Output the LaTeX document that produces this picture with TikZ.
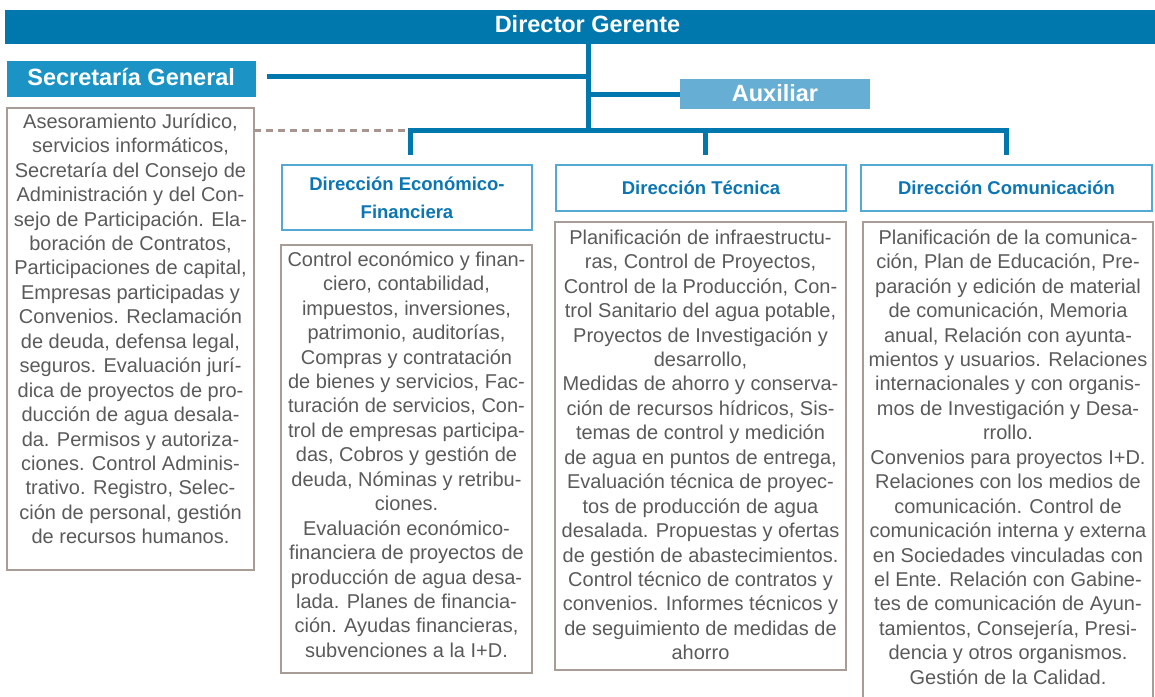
\documentclass[tikz,border=0pt]{standalone}
\usepackage{fontspec}
\setmainfont{Liberation Sans}
\usetikzlibrary{calc}
\definecolor{dgblue}{HTML}{0077AD}
\definecolor{sgblue}{HTML}{1B94C5}
\definecolor{auxblue}{HTML}{66AED3}
\definecolor{hdrborder}{HTML}{55A7D4}
\definecolor{hdrtext}{HTML}{0B76B3}
\definecolor{bodyborder}{HTML}{A89C96}
\definecolor{bodytext}{HTML}{5A5A5A}
\definecolor{dashcol}{HTML}{A8968E}
\begin{document}
\begin{tikzpicture}[x=1pt,y=-1pt,
  conn/.style={draw=dgblue,line width=5pt},
  solidbox/.style={inner sep=0pt,outer sep=0pt,text=white,text height=16pt,text depth=4pt,font=\bfseries\fontsize{23.5}{28}\selectfont},
  hdr/.style={draw=hdrborder,line width=1.3pt,fill=white,inner sep=0pt,outer sep=0pt,align=center,text=hdrtext,font=\bfseries\fontsize{18.5}{28}\selectfont},
  body/.style={draw=bodyborder,line width=1.2pt,inner sep=0pt,outer sep=0pt},
  bodytxt/.style={anchor=north,inner sep=0pt,align=center,text=bodytext,font=\fontsize{20}{24.45}\selectfont},
  dashline/.style={draw=dashcol,line width=3pt,dash pattern=on 7pt off 5pt}]
\useasboundingbox (0,0) rectangle (1155,696);
% boxes
\node[solidbox,fill=dgblue,minimum width=1165pt,minimum height=33.5pt] (dg) at (587.5,26.8) {Director Gerente};
\node[solidbox,fill=sgblue,minimum width=249pt,minimum height=36pt] (sg) at (131.2,79) {Secretaría General};
\node[solidbox,fill=auxblue,minimum width=190pt,minimum height=30pt,text height=17pt,text depth=2pt] (aux) at (775,94) {Auxiliar};
\node[hdr,minimum width=250pt,minimum height=65pt] (eh) at (407,197.5) {Dirección Económico-\\Financiera};
\node[hdr,minimum width=290pt,minimum height=46pt] (th) at (701,188) {Dirección Técnica};
\node[hdr,minimum width=291pt,minimum height=46pt] (ch) at (1006.5,188) {Dirección Comunicación};
\node[body,minimum width=247pt,minimum height=462pt] (sb) at (130.5,339) {};
\node[body,minimum width=251pt,minimum height=428pt] (eb) at (406.5,459) {};
\node[body,minimum width=291pt,minimum height=448pt] (tb) at (700.5,446) {};
\node[body,minimum width=290pt,minimum height=488pt] (cb) at (1008,466) {};
% connectors
\coordinate (t) at (588,130);
\coordinate (b1) at (410,130);
\draw[conn] (dg.south -| t) -- (t);
\draw[conn] ([xshift=11pt,yshift=2.5pt]sg.east) -- ([yshift=2.5pt]sg.east -| t);
\draw[conn] (aux.west -| t) -- (aux.west);
\draw[conn,line join=miter] ([xshift=3pt,yshift=10pt]eh.north) -- ([xshift=3pt]eh.north |- b1) -- (ch.north |- b1) -- ([yshift=10pt]ch.north);
\draw[conn] ([xshift=4pt]th.north |- b1) -- ([xshift=4pt,yshift=10pt]th.north);
\draw[dashline] (sb.east |- b1) -- (b1);
% texts
\node[bodytxt] (st) at (130.5,109) {\rule{0pt}{19pt}Asesoramiento Jurídico,\\servicios informáticos,\\Secretaría del Consejo de\\Administración y del Con-\\sejo de Participación. Ela-\\boración de Contratos,\\Participaciones de capital,\\Empresas participadas y\\Convenios. Reclamación\\de deuda, defensa legal,\\seguros. Evaluación jurí-\\dica de proyectos de pro-\\ducción de agua desala-\\da. Permisos y autoriza-\\ciones. Control Adminis-\\trativo. Registro, Selec-\\ción de personal, gestión\\de recursos humanos.};
\node[bodytxt] (et) at (406.5,247) {\rule{0pt}{19pt}Control económico y finan-\\ciero, contabilidad,\\impuestos, inversiones,\\patrimonio, auditorías,\\Compras y contratación\\de bienes y servicios, Fac-\\turación de servicios, Con-\\trol de empresas participa-\\das, Cobros y gestión de\\deuda, Nóminas y retribu-\\ciones.\\Evaluación económico-\\financiera de proyectos de\\producción de agua desa-\\lada. Planes de financia-\\ción. Ayudas financieras,\\subvenciones a la I+D.};
\node[bodytxt] (tt) at (700.5,225) {\rule{0pt}{19pt}Planificación de infraestructu-\\ras, Control de Proyectos,\\Control de la Producción, Con-\\trol Sanitario del agua potable,\\Proyectos de Investigación y\\desarrollo,\\Medidas de ahorro y conserva-\\ción de recursos hídricos, Sis-\\temas de control y medición\\de agua en puntos de entrega,\\Evaluación técnica de proyec-\\tos de producción de agua\\desalada. Propuestas y ofertas\\de gestión de abastecimientos.\\Control técnico de contratos y\\convenios. Informes técnicos y\\de seguimiento de medidas de\\ahorro};
\node[bodytxt] (ct) at (1008,225) {\rule{0pt}{19pt}Planificación de la comunica-\\ción, Plan de Educación, Pre-\\paración y edición de material\\de comunicación, Memoria\\anual, Relación con ayunta-\\mientos y usuarios. Relaciones\\internacionales y con organis-\\mos de Investigación y Desa-\\rrollo.\\Convenios para proyectos I+D.\\Relaciones con los medios de\\comunicación. Control de\\comunicación interna y externa\\en Sociedades vinculadas con\\el Ente. Relación con Gabine-\\tes de comunicación de Ayun-\\tamientos, Consejería, Presi-\\dencia y otros organismos.\\Gestión de la Calidad.};
\end{tikzpicture}
\end{document}
